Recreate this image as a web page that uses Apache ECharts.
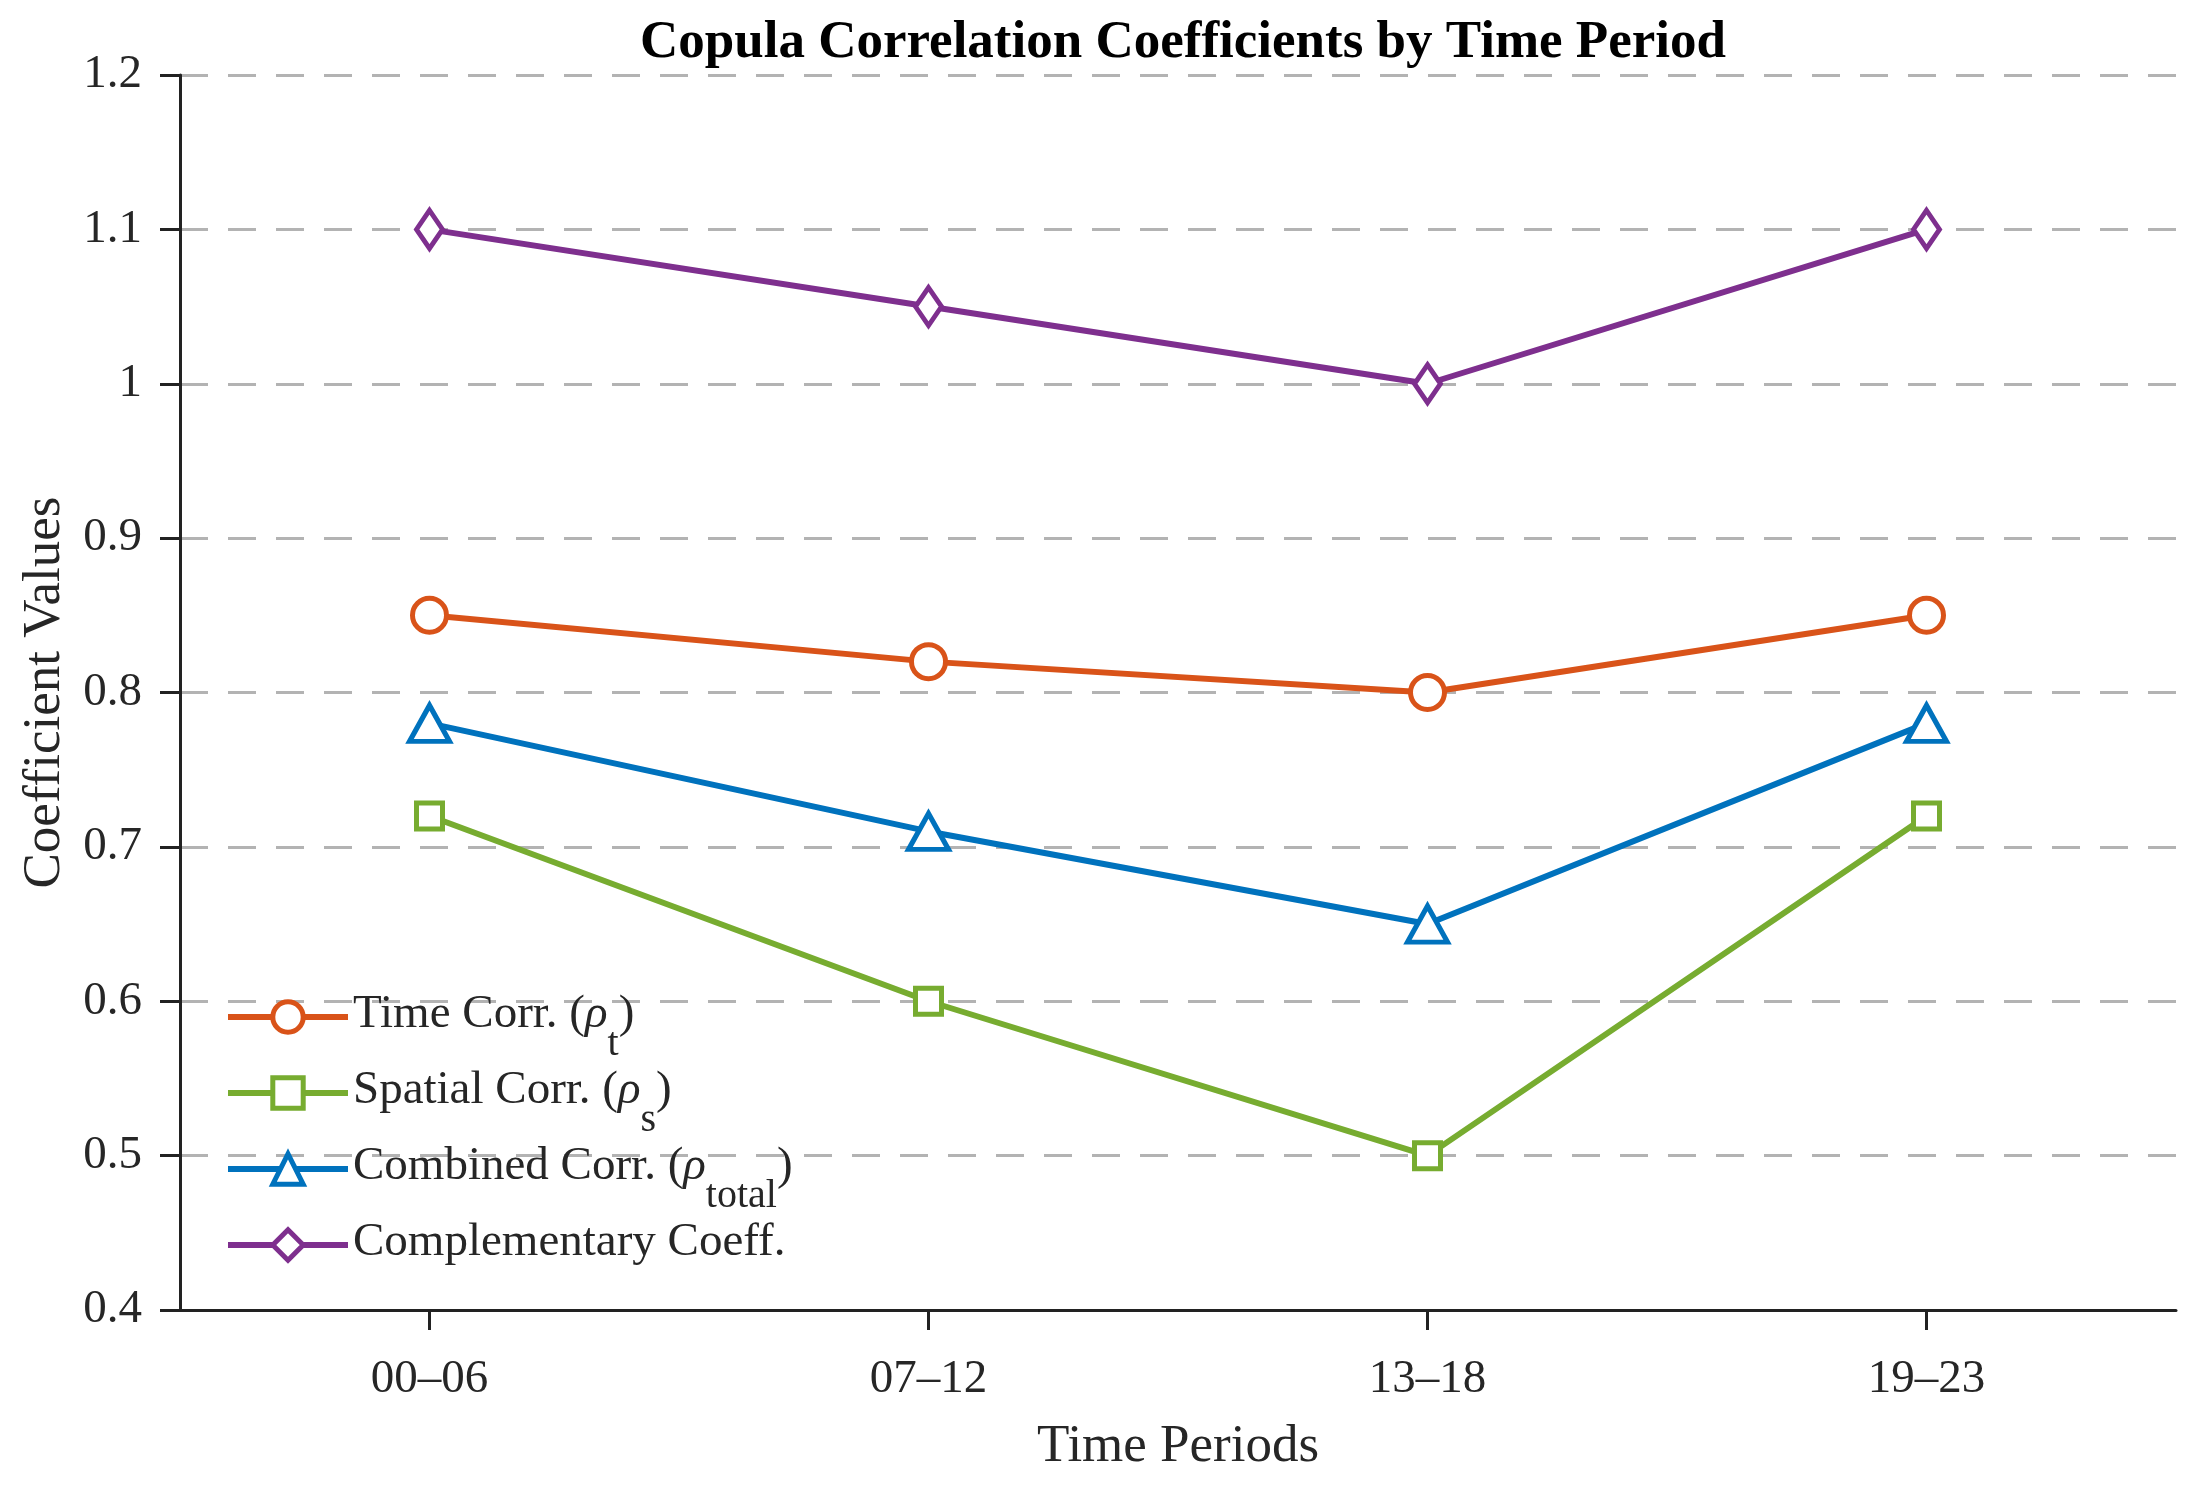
<!DOCTYPE html>
<html>
<head>
<meta charset="utf-8">
<script src="https://cdn.jsdelivr.net/npm/echarts@6/dist/echarts.min.js"></script>
<style>
  html, body { margin: 0; padding: 0; background: #fff; }
  #chart { width: 2208px; height: 1489px; }
</style>
</head>
<body>
<div id="chart"></div>
<script>
// time periods on the x axis
var periods = ['00–06', '07–12', '13–18', '19–23'];
// coefficient values
var timeCorr = [0.85, 0.82, 0.80, 0.85];
var spatialCorr = [0.72, 0.60, 0.50, 0.72];
var combinedCorr = [0.78, 0.71, 0.65, 0.78];
var complementary = [1.10, 1.05, 1.00, 1.10];
var yTicks = [0.4, 0.5, 0.6, 0.7, 0.8, 0.9, 1, 1.1, 1.2];

var serif = '"Liberation Serif", "DejaVu Serif", serif';
var txt = '#262626';

var myChart = echarts.init(document.getElementById('chart'));

// hollow markers: white fill, coloured thick border
function mkSeries(name, data, color, symbol, size) {
    return {
        name: name,
        type: 'line',
        data: data,
        symbol: symbol,
        symbolSize: size,
        lineStyle: { color: color, width: 6 },
        itemStyle: { color: '#fff', borderColor: color, borderWidth: 5 },
        z: 3
    };
}

var option = {
    backgroundColor: '#fff',
    animation: false,
    title: {
        text: 'Copula Correlation Coefficients by Time Period',
        left: 1178,
        textAlign: 'center',
        top: 12,
        textStyle: { fontFamily: serif, fontWeight: 'bold', fontSize: 53, color: '#000' }
    },
    grid: { left: 180, right: 32, top: 75, bottom: 179 },
    legend: {
        orient: 'vertical',
        left: 225,
        top: 991,
        padding: 0,
        itemWidth: 120,
        itemHeight: 38,
        itemGap: 3,
        lineStyle: { width: 6 },
        itemStyle: { borderWidth: 5 },
        data: ['t', 's', 'total', 'comp'],
        formatter: function (n) {
            if (n === 't') return '{m|Time Corr. (}{g|ρ}{s|t}{m|)}';
            if (n === 's') return '{m|Spatial Corr. (}{g|ρ}{s|s}{m|)}';
            if (n === 'total') return '{m|Combined Corr. (}{g|ρ}{s|total}{m|)}';
            return '{m|Complementary Coeff.}{s| }';
        },
        textStyle: {
            fontFamily: serif, fontSize: 47, color: txt,
            rich: {
                m: { fontFamily: serif, fontSize: 47, color: txt, verticalAlign: 'top', padding: [21, 0, 0, 0] },
                g: { fontFamily: serif, fontSize: 47, color: txt, fontStyle: 'italic', verticalAlign: 'top', padding: [21, 0, 0, 0] },
                s: { fontFamily: serif, fontSize: 40, color: txt, verticalAlign: 'top', padding: [54, 0, 0, 0] }
            }
        }
    },
    xAxis: {
        type: 'category',
        data: periods,
        boundaryGap: true,
        name: 'Time Periods',
        nameLocation: 'middle',
        nameGap: 111,
        nameTextStyle: { fontFamily: serif, fontSize: 53, color: txt },
        axisLine: { lineStyle: { color: '#222', width: 3 } },
        axisTick: { show: true, alignWithLabel: true, length: 20, lineStyle: { color: '#222', width: 3 } },
        axisLabel: { fontFamily: serif, fontSize: 47, color: txt, margin: 46 },
        splitLine: { show: false }
    },
    yAxis: {
        type: 'value',
        min: yTicks[0],
        max: yTicks[yTicks.length - 1],
        interval: 0.1,
        name: 'Coefficient Values',
        nameLocation: 'middle',
        nameGap: 108,
        nameTextStyle: { fontFamily: serif, fontSize: 53, color: txt },
        axisLine: { show: true, lineStyle: { color: '#222', width: 3 } },
        axisTick: { show: true, length: 20, lineStyle: { color: '#222', width: 3 } },
        axisLabel: {
            fontFamily: serif, fontSize: 47, color: txt, margin: 38,
            formatter: function (v) { return String(Math.round(v * 10) / 10); }
        },
        splitLine: { show: true, lineStyle: { color: '#b3b3b3', width: 3, type: [28, 20] } }
    },
    series: [
        mkSeries('t', timeCorr, '#D95319', 'circle', 34),
        mkSeries('s', spatialCorr, '#77AC30', 'rect', 26),
        mkSeries('total', combinedCorr, '#0072BD', 'triangle', [40, 36]),
        mkSeries('comp', complementary, '#7E2F8E', 'diamond', [26, 38])
    ]
};

myChart.setOption(option);
</script>
</body>
</html>
